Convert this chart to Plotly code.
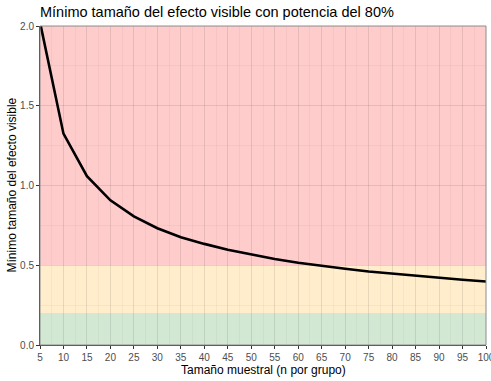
import plotly.graph_objects as go

n_values = [5, 10, 15, 20, 25, 30, 35, 40, 45, 50, 55, 60, 65, 70, 75, 80, 85, 90, 95, 100]
effect_sizes = [2.024, 1.325, 1.058, 0.907, 0.806, 0.732, 0.676, 0.634, 0.597, 0.566,
                0.539, 0.516, 0.496, 0.478, 0.461, 0.447, 0.433, 0.421, 0.409, 0.398]
x_ticks = list(range(5, 101, 5))
y_ticks = [0.0, 0.5, 1.0, 1.5, 2.0]
bands = [(0.0, 0.2, "#d3e8d3"), (0.2, 0.5, "#ffedcc"), (0.5, 2.0, "#ffcccc")]

fig = go.Figure()
fig.add_trace(go.Scatter(x=n_values, y=effect_sizes, mode="lines",
                         line=dict(color="black", width=2.6), showlegend=False))

for y0, y1, col in bands:
    fig.add_shape(type="rect", xref="x", yref="y", x0=5, x1=100, y0=y0, y1=y1,
                  fillcolor=col, line_width=0, layer="below")

font = "Liberation Sans, Arial, sans-serif"
W, H = 491, 381
L, R, T, B = 40, 5, 26, 36
fig.update_layout(
    width=W, height=H,
    margin=dict(l=L, r=R, t=T, b=B),
    paper_bgcolor="white", plot_bgcolor="white",
    font=dict(family=font, color="black"),
    title=dict(text="Mínimo tamaño del efecto visible con potencia del 80%",
               x=L/W, xanchor="left", y=1 - 12/H, yanchor="middle",
               font=dict(size=14.5, color="black", family=font)),
    xaxis=dict(range=[5, 100], tickvals=x_ticks, ticktext=[str(v) for v in x_ticks],
               automargin=False, ticklabeloverflow="allow",
               showgrid=True, gridcolor="rgba(0,0,0,0.06)", gridwidth=1,
               minor=dict(dtick=2.5, tick0=5, showgrid=True, gridcolor="rgba(0,0,0,0.035)", gridwidth=1),
               zeroline=False, showline=True, linecolor="#333333", linewidth=1, mirror=False,
               ticks="outside", ticklen=3, tickcolor="#333333",
               tickfont=dict(size=10, color="#4d4d4d")),
    yaxis=dict(range=[0, 2], tickvals=y_ticks, ticktext=[f"{v:.1f}" for v in y_ticks],
               automargin=False, ticklabeloverflow="allow",
               showgrid=True, gridcolor="rgba(0,0,0,0.06)", gridwidth=1,
               minor=dict(dtick=0.25, tick0=0, showgrid=True, gridcolor="rgba(0,0,0,0.035)", gridwidth=1),
               zeroline=False, showline=True, linecolor="#333333", linewidth=1, mirror=False,
               ticks="outside", ticklen=3, tickcolor="#333333",
               tickfont=dict(size=10, color="#4d4d4d")),
)
fig.add_annotation(text="Tamaño muestral (n por grupo)", xref="paper", yref="paper",
                   x=0.5, y=-(370 - (H - B)) / (H - T - B), xanchor="center", yanchor="middle",
                   showarrow=False, font=dict(size=12, color="black", family=font))
fig.add_annotation(text="Mínimo tamaño del efecto visible", xref="paper", yref="paper",
                   x=-(L - 11) / (W - L - R), y=0.5, xanchor="center", yanchor="middle",
                   textangle=-90, showarrow=False, font=dict(size=12, color="black", family=font))
fig.add_shape(type="rect", xref="paper", yref="paper", x0=0, x1=1, y0=0, y1=1,
              line=dict(color="#8c8c8c", width=1), fillcolor="rgba(0,0,0,0)", layer="above")

fig.write_html("out.html", config={"displayModeBar": False},
               post_script="document.body.style.margin='0';document.body.style.overflow='hidden';")
